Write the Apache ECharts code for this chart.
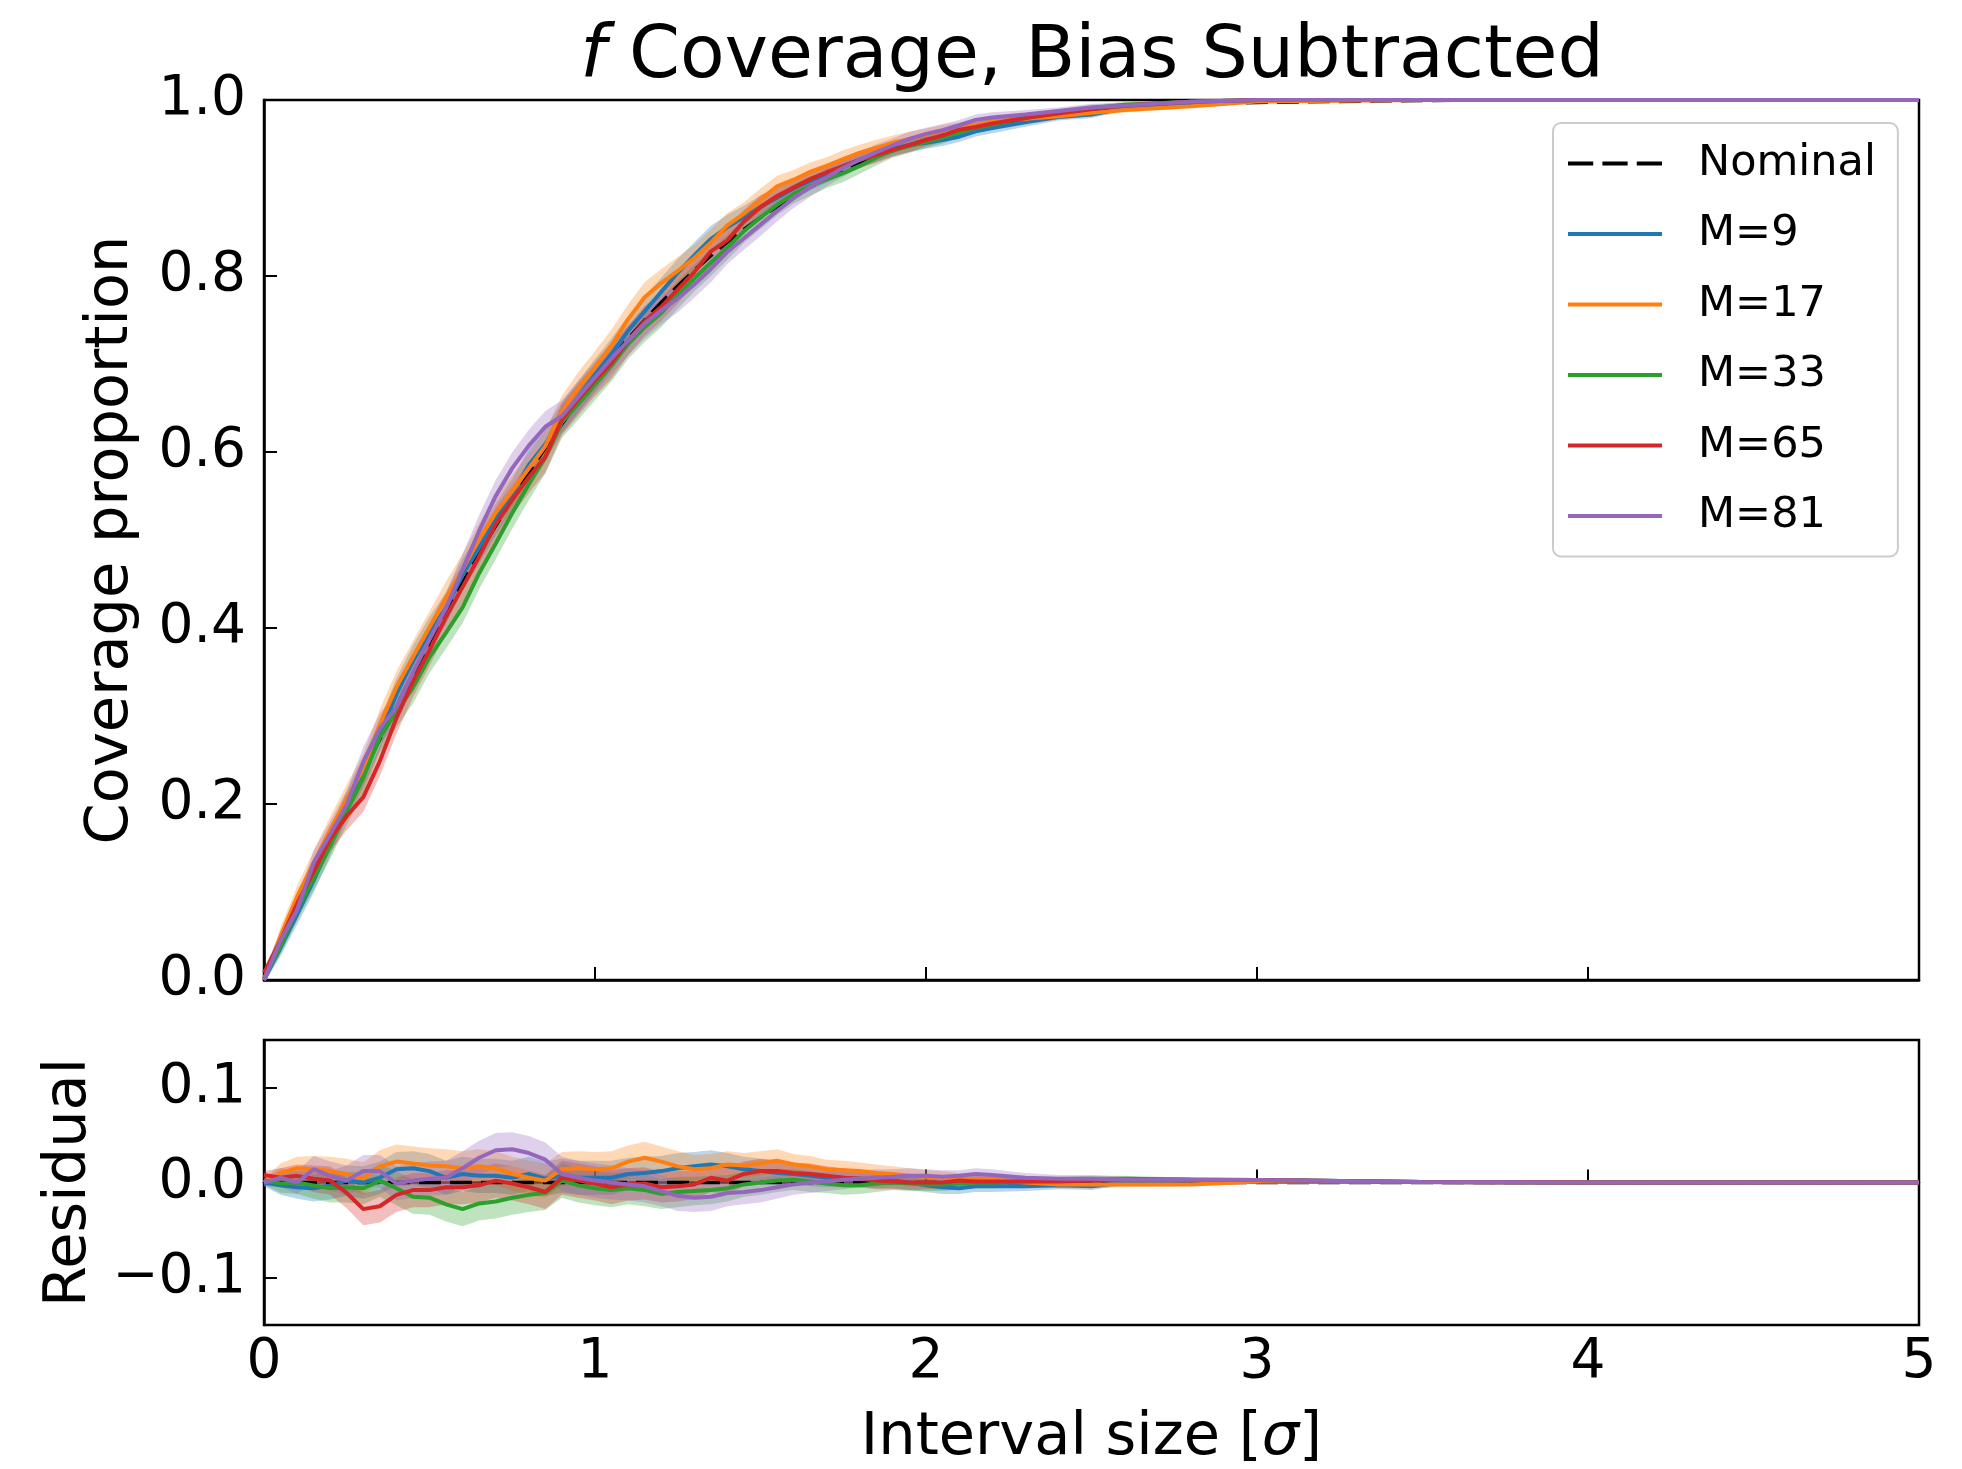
<!DOCTYPE html>
<html>
<head>
<meta charset="utf-8">
<title>f Coverage, Bias Subtracted</title>
<script src="https://cdn.jsdelivr.net/npm/echarts@6.0.0/dist/echarts.min.js"></script>
<style>
  html, body { margin: 0; padding: 0; background: #ffffff; }
  #chart { width: 1962px; height: 1469px; }
</style>
</head>
<body>
<div id="chart"></div>
<script>
// interval size in units of sigma
var intervalSizes = [
	0, 0.05, 0.1, 0.15, 0.2, 0.25, 0.3, 0.35, 0.4, 0.45,
	0.5, 0.55, 0.6, 0.65, 0.7, 0.75, 0.8, 0.85, 0.9, 0.95,
	1.0, 1.05, 1.1, 1.15, 1.2, 1.25, 1.3, 1.35, 1.4, 1.45,
	1.5, 1.55, 1.6, 1.65, 1.7, 1.75, 1.8, 1.85, 1.9, 1.95,
	2.0, 2.05, 2.1, 2.15, 2.2,
	2.3, 2.4, 2.5, 2.6, 2.8, 3.0, 3.5, 4.0, 4.5, 5.0
];

var nominalCoverage = [
	0.0000, 0.0399, 0.0797, 0.1192, 0.1585, 0.1974, 0.2358, 0.2737, 0.3108, 0.3473,
	0.3829, 0.4177, 0.4515, 0.4843, 0.5161, 0.5467, 0.5763, 0.6047, 0.6319, 0.6579,
	0.6827, 0.7063, 0.7287, 0.7499, 0.7699, 0.7887, 0.8064, 0.8230, 0.8385, 0.8529,
	0.8664, 0.8789, 0.8904, 0.9011, 0.9109, 0.9199, 0.9281, 0.9357, 0.9426, 0.9488,
	0.9545, 0.9596, 0.9643, 0.9684, 0.9722,
	0.9786, 0.9836, 0.9876, 0.9907, 0.9949, 0.9973, 0.9995, 0.9999, 1.0000, 1.0000
];

// residual = measured coverage - nominal
var residualM9 = [
	0.000, -0.003, -0.005, -0.006, -0.003, 0.002, 0.000, 0.005, 0.014, 0.015,
	0.012, 0.005, 0.009, 0.007, 0.007, 0.005, 0.009, 0.004, 0.007, 0.005,
	0.005, 0.005, 0.009, 0.010, 0.012, 0.015, 0.017, 0.019, 0.017, 0.014,
	0.012, 0.010, 0.009, 0.007, 0.005, 0.005, 0.004, 0.003, 0.002, 0.000,
	-0.003, -0.005, -0.006, -0.004, -0.004,
	-0.004, -0.003, -0.004, 0.000, 0.002, 0.0027, 0.0005, 0.0001, 0, 0
];
var residualM17 = [
	0.000, 0.010, 0.015, 0.014, 0.012, 0.009, 0.004, 0.017, 0.022, 0.020,
	0.018, 0.017, 0.015, 0.017, 0.015, 0.009, 0.005, 0.002, 0.014, 0.015,
	0.014, 0.015, 0.022, 0.026, 0.022, 0.017, 0.014, 0.015, 0.019, 0.018,
	0.020, 0.023, 0.019, 0.017, 0.014, 0.013, 0.012, 0.010, 0.009, 0.007,
	0.006, 0.005, 0.004, 0.003, 0.003,
	0.000, -0.002, -0.002, -0.002, -0.002, 0.001, 0.0005, 0.0001, 0, 0
];
var residualM33 = [
	0.002, -0.001, 0.000, -0.003, -0.006, -0.005, -0.006, 0.002, -0.006, -0.015,
	-0.016, -0.023, -0.028, -0.022, -0.020, -0.016, -0.013, -0.011, 0.002, -0.003,
	-0.006, -0.008, -0.006, -0.008, -0.012, -0.010, -0.009, -0.008, -0.006, -0.002,
	0.000, 0.002, 0.003, 0.001, -0.001, -0.003, -0.003, -0.001, 0.000, -0.001,
	-0.002, -0.002, -0.001, 0.000, 0.000,
	0.001, 0.002, 0.003, 0.004, 0.003, 0.0027, 0.0005, 0.0001, 0, 0
];
var residualM65 = [
	0.008, 0.005, 0.007, 0.004, 0.002, -0.011, -0.028, -0.025, -0.013, -0.008,
	-0.008, -0.005, -0.005, -0.003, 0.002, -0.001, -0.005, -0.010, 0.005, 0.002,
	-0.001, -0.005, -0.002, -0.001, -0.005, -0.004, -0.002, 0.005, 0.002, 0.009,
	0.012, 0.012, 0.010, 0.009, 0.007, 0.005, 0.004, 0.002, 0.001, 0.000,
	0.000, 0.000, 0.002, 0.001, 0.001,
	0.001, 0.001, 0.002, 0.003, 0.003, 0.0027, 0.0005, 0.0001, 0, 0
];
var residualM81 = [
	0.000, 0.005, 0.000, 0.014, 0.007, 0.002, 0.012, 0.012, -0.001, 0.002,
	0.004, 0.005, 0.015, 0.026, 0.034, 0.035, 0.031, 0.024, 0.009, 0.005,
	0.002, 0.000, -0.002, -0.004, -0.009, -0.014, -0.016, -0.015, -0.011, -0.010,
	-0.008, -0.005, -0.002, 0.000, 0.001, 0.003, 0.004, 0.005, 0.006, 0.007,
	0.007, 0.006, 0.007, 0.009, 0.008,
	0.005, 0.004, 0.004, 0.003, 0.003, 0.0027, 0.0005, 0.0001, 0, 0
];

// half width of the shaded uncertainty band
var bandHalfWidth = [
	0.004, 0.010, 0.012, 0.014, 0.015, 0.016, 0.017, 0.017, 0.018, 0.018,
	0.018, 0.018, 0.018, 0.018, 0.018, 0.018, 0.018, 0.018, 0.018, 0.018,
	0.018, 0.018, 0.017, 0.017, 0.016, 0.016, 0.015, 0.015, 0.014, 0.013,
	0.013, 0.012, 0.011, 0.011, 0.010, 0.010, 0.009, 0.009, 0.008, 0.008,
	0.007, 0.007, 0.006, 0.006, 0.006,
	0.005, 0.004, 0.004, 0.003, 0.002, 0.002, 0.001, 0.0005, 0, 0
];

var seriesNames = ['M=9', 'M=17', 'M=33', 'M=65', 'M=81'];
var seriesResiduals = [residualM9, residualM17, residualM33, residualM65, residualM81];
var residualTicks = [-0.1, 0, 0.1];
var sizeTicks = [0, 1, 2, 3, 4, 5];

var colors = ['#1f77b4', '#ff7f0e', '#2ca02c', '#d62728', '#9467bd'];
var fontFamily = 'DejaVu Sans';

var chart = echarts.init(document.getElementById('chart'));

function pairs(values) {
	return intervalSizes.map(function (x, i) {
		return [x, values[i]];
	});
}

function bandSeries(name, color, center, axisIndex) {
	var upper = center.map(function (v, i) { return v + bandHalfWidth[i]; });
	var lower = center.map(function (v, i) { return v - bandHalfWidth[i]; });
	return {
		type: 'custom',
		name: name + ' band',
		xAxisIndex: axisIndex,
		yAxisIndex: axisIndex,
		clip: true,
		silent: true,
		z: 2,
		data: pairs(center),
		encode: { x: 0, y: 1 },
		renderItem: function (params, api) {
			if (params.dataIndex !== 0) {
				return null;
			}
			var points = [];
			for (var i = 0; i < intervalSizes.length; i++) {
				points.push(api.coord([intervalSizes[i], upper[i]]));
			}
			for (var j = intervalSizes.length - 1; j >= 0; j--) {
				points.push(api.coord([intervalSizes[j], lower[j]]));
			}
			return {
				type: 'polygon',
				shape: { points: points },
				style: { fill: color, opacity: 0.3 }
			};
		}
	};
}

function lineSeries(name, color, values, axisIndex, dashed) {
	return {
		type: 'line',
		name: name,
		xAxisIndex: axisIndex,
		yAxisIndex: axisIndex,
		data: pairs(values),
		symbol: 'none',
		clip: true,
		z: 3,
		lineStyle: { color: color, width: dashed ? 3.5 : 4, type: dashed ? [22, 9] : 'solid' },
		itemStyle: { color: color }
	};
}

var series = [
	lineSeries('Nominal', '#000000', nominalCoverage, 0, true),
	lineSeries('Nominal', '#000000', intervalSizes.map(function () { return 0; }), 1, true)
];

seriesNames.forEach(function (name, k) {
	var residual = seriesResiduals[k];
	var coverage = residual.map(function (r, i) {
		return Math.min(1, nominalCoverage[i] + r);
	});
	series.push(bandSeries(name, colors[k], coverage, 0));
	series.push(lineSeries(name, colors[k], coverage, 0, false));
	series.push(bandSeries(name, colors[k], residual, 1));
	series.push(lineSeries(name, colors[k], residual, 1, false));
});

// legend entries: plain strokes, the nominal one dashed
var legendData = [{ name: 'Nominal', icon: 'path://M0,0h22v4h-22zM30,0h22v4h-22zM60,0h22v4h-22z' }]
	.concat(seriesNames.map(function (name) { return { name: name, icon: 'rect' }; }));

var tickStyle = { show: true, inside: true, length: 13, lineStyle: { color: '#000', width: 2 } };
var axisLineStyle = { show: true, lineStyle: { color: '#000', width: 2.5 } };
var labelStyle = { fontFamily: fontFamily, fontSize: 55, color: '#000' };
var nameStyle = { fontFamily: fontFamily, fontSize: 59, color: '#000' };

chart.setOption({
	animation: false,
	backgroundColor: '#ffffff',
	graphic: [{
		type: 'text',
		x: 1092,
		y: 58,
		style: {
			text: '{i|f} Coverage, Bias Subtracted',
			fontFamily: fontFamily,
			fontSize: 73,
			fill: '#000',
			align: 'center',
			verticalAlign: 'middle',
			rich: {
				i: { fontFamily: fontFamily, fontSize: 73, fontStyle: 'italic', fill: '#000' }
			}
		}
	}],
	legend: {
		data: legendData,
		orient: 'vertical',
		left: 1553,
		top: 123,
		padding: [19, 22, 19, 15],
		itemWidth: 94,
		itemHeight: 4,
		itemGap: 27.5,
		symbolKeepAspect: false,
		selectedMode: false,
		backgroundColor: 'rgba(255,255,255,0.8)',
		borderColor: '#cccccc',
		borderWidth: 2,
		borderRadius: 8,
		textStyle: { fontFamily: fontFamily, fontSize: 43, color: '#000', padding: [0, 0, 0, 31] }
	},
	grid: [
		{ left: 264, top: 100, width: 1655, height: 880, show: true, borderColor: '#000', borderWidth: 2.5, containLabel: false },
		{ left: 264, top: 1040, width: 1655, height: 293, show: true, borderColor: '#000', borderWidth: 2.5, containLabel: false }
	],
	xAxis: [
		{
			type: 'value', gridIndex: 0, min: 0, max: 5, interval: 1,
			axisLine: axisLineStyle, axisTick: tickStyle, splitLine: { show: false },
			axisLabel: { show: false }
		},
		{
			type: 'value', gridIndex: 1, min: 0, max: 5, interval: 1,
			axisLine: axisLineStyle, axisTick: tickStyle, splitLine: { show: false },
			axisLabel: Object.assign({ margin: 10, customValues: sizeTicks }, labelStyle),
			name: 'Interval size [{i|σ}]',
			nameLocation: 'middle',
			nameGap: 84,
			nameTextStyle: Object.assign({
				rich: { i: { fontFamily: fontFamily, fontSize: 59, fontStyle: 'italic', color: '#000' } }
			}, nameStyle)
		}
	],
	yAxis: [
		{
			type: 'value', gridIndex: 0, min: 0, max: 1, interval: 0.2,
			axisLine: axisLineStyle, axisTick: tickStyle, splitLine: { show: false },
			axisLabel: Object.assign({
				margin: 18,
				formatter: function (v) { return v.toFixed(1); }
			}, labelStyle),
			name: 'Coverage proportion',
			nameLocation: 'middle',
			nameGap: 123,
			nameTextStyle: nameStyle
		},
		{
			type: 'value', gridIndex: 1, min: -0.15, max: 0.15,
			axisLine: axisLineStyle,
			axisTick: Object.assign({ customValues: residualTicks }, tickStyle),
			splitLine: { show: false },
			axisLabel: Object.assign({
				margin: 18,
				customValues: residualTicks,
				formatter: function (v) {
					var s = Math.abs(v).toFixed(1);
					return v < -1e-9 ? '\u2212' + s : s;
				}
			}, labelStyle),
			name: 'Residual',
			nameLocation: 'middle',
			nameGap: 165,
			nameTextStyle: nameStyle
		}
	],
	series: series
});

window.addEventListener('resize', function () {
	chart.resize();
});
</script>
</body>
</html>
